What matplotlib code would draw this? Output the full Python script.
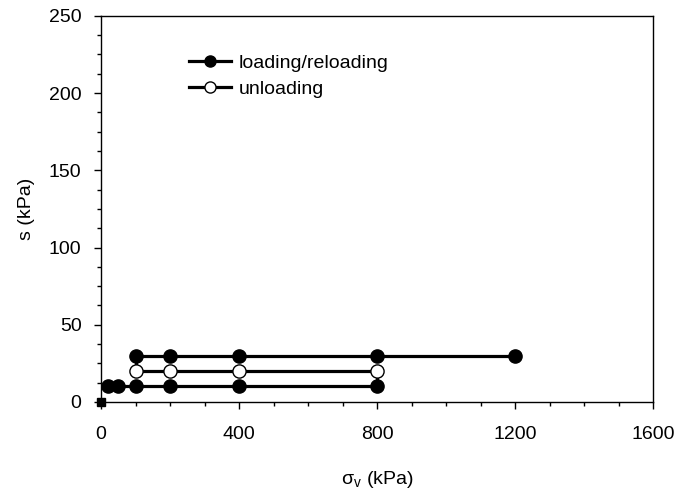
import numpy as np
import matplotlib.pyplot as plt
from matplotlib.ticker import MultipleLocator

plt.rcParams['font.family'] = ['Liberation Sans', 'DejaVu Sans']

# initial state
start_sv = [0]
start_s = [0]

# loading stage (s = 10 kPa)
load_sv = [20, 50, 100, 200, 400, 800]
load_s = [10, 10, 10, 10, 10, 10]

# unloading stage (s = 20 kPa)
unload_sv = [800, 400, 200, 100]
unload_s = [20, 20, 20, 20]

# reloading stage (s = 30 kPa)
reload_sv = [100, 200, 400, 800, 1200]
reload_s = [30, 30, 30, 30, 30]

fig = plt.figure(figsize=(6.94, 4.95), dpi=100)
ax = fig.add_axes([0.1455, 0.188, 0.796, 0.78])

# stress path connecting all stages
path_sv = load_sv + unload_sv + reload_sv
path_s = load_s + unload_s + reload_s
ax.plot(path_sv, path_s, color='black', lw=2.3, zorder=2, clip_on=False)

ax.plot(start_sv, start_s, 's', color='black', ms=6, zorder=4, clip_on=False)
ax.plot(load_sv, load_s, 'o', mfc='black', mec='black', ms=9.5, zorder=3, clip_on=False)
ax.plot(unload_sv, unload_s, 'o', mfc='white', mec='black', mew=1.0, ms=9.5, zorder=3, clip_on=False)
ax.plot(reload_sv, reload_s, 'o', mfc='black', mec='black', ms=9.5, zorder=3, clip_on=False)

# legend entries
h1, = ax.plot([], [], '-o', color='black', lw=2.3, ms=8, mfc='black')
h2, = ax.plot([], [], '-o', color='black', lw=2.3, ms=8, mfc='white', mew=1.0)
ax.legend([h1, h2], ['loading/reloading', 'unloading'], loc='upper left',
          bbox_to_anchor=(0.142, 0.926), frameon=False, fontsize=14,
          handlelength=2.15, handletextpad=0.4, labelspacing=0.45, borderpad=0)

ax.set_xlim(0, 1600)
ax.set_ylim(0, 250)
ax.xaxis.set_major_locator(MultipleLocator(400))
ax.xaxis.set_minor_locator(MultipleLocator(100))
ax.yaxis.set_major_locator(MultipleLocator(50))
ax.yaxis.set_minor_locator(MultipleLocator(12.5))
ax.tick_params(which='major', direction='out', length=5, width=1, labelsize=14)
ax.tick_params(which='minor', direction='out', length=3, width=1)
ax.tick_params(axis='x', which='major', pad=12)
ax.tick_params(axis='y', which='major', pad=9)
for sp in ax.spines.values():
    sp.set_linewidth(1)

ax.set_xlabel(r'σ$_\mathregular{v}$ (kPa)', fontsize=14, labelpad=19)
ax.set_ylabel('s (kPa)', fontsize=14, labelpad=10)

plt.savefig('out.png', dpi=100)
